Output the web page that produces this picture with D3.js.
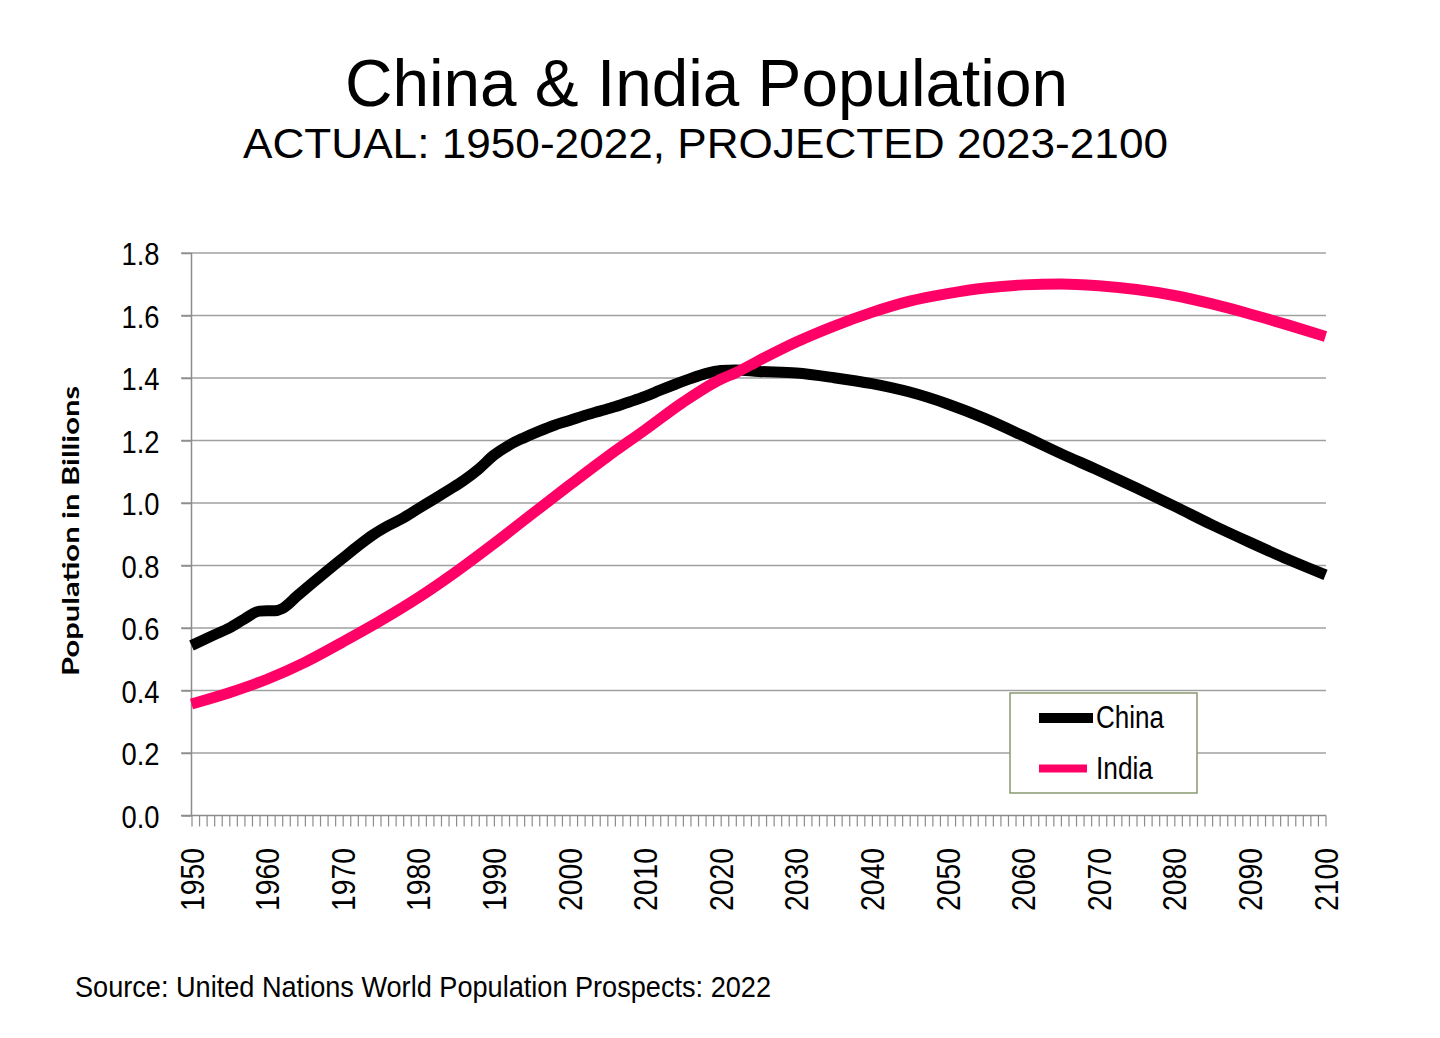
<!DOCTYPE html>
<html>
<head>
<meta charset="utf-8">
<script src="https://cdn.jsdelivr.net/npm/d3@7"></script>
<style>
  body { margin: 0; background: #fff; }
  svg { display: block; font-family: "Liberation Sans", Arial, sans-serif; }
</style>
</head>
<body>
<svg id="chart" width="1440" height="1038"></svg>
<script>
// data, population in billions
var chinaYears = [1950,1953,1955,1957,1959,1960,1961,1962,1964,1966,1968,1970,1972,1974,1976,1978,1980,1982,1984,1986,1988,1990,1992,1994,1996,1998,2000,2002,2004,2006,2008,2010,2012,2014,2016,2018,2020,2022,2025,2030,2035,2040,2045,2050,2055,2060,2065,2070,2075,2080,2085,2090,2095,2100];
var chinaPop = [0.544,0.578,0.600,0.629,0.654,0.655,0.655,0.662,0.703,0.744,0.784,0.823,0.862,0.898,0.927,0.952,0.982,1.011,1.041,1.072,1.109,1.153,1.185,1.209,1.230,1.249,1.264,1.280,1.294,1.308,1.324,1.341,1.361,1.380,1.398,1.414,1.424,1.426,1.421,1.416,1.401,1.382,1.355,1.317,1.270,1.215,1.158,1.104,1.048,0.990,0.930,0.874,0.820,0.770];
var indiaYears = [1950,1955,1960,1965,1970,1975,1980,1985,1990,1995,2000,2005,2010,2015,2020,2022,2025,2030,2035,2040,2045,2050,2055,2060,2065,2070,2075,2080,2085,2090,2095,2100];
var indiaPop = [0.357,0.393,0.436,0.490,0.555,0.623,0.697,0.780,0.870,0.964,1.057,1.148,1.234,1.322,1.396,1.417,1.455,1.515,1.566,1.610,1.646,1.670,1.688,1.698,1.701,1.695,1.683,1.664,1.637,1.605,1.570,1.533];
var yTicks = [0,0.2,0.4,0.6,0.8,1.0,1.2,1.4,1.6,1.8];
var xLabels = d3.range(1950, 2101, 10);
var seriesNames = ["China","India"];
var seriesColors = ["#000000","#ff0066"];

var svg = d3.select("#chart");
var x = d3.scaleLinear().domain([1950,2100]).range([191.5,1325.5]);
var y = d3.scaleLinear().domain([0,1.8]).range([815.5,253]);

// titles
svg.append("text").attr("x",706.5).attr("y",105.5).attr("text-anchor","middle")
  .attr("font-size",66).attr("textLength",723).attr("lengthAdjust","spacingAndGlyphs")
  .text("China & India Population");
svg.append("text").attr("x",705.5).attr("y",158).attr("text-anchor","middle")
  .attr("font-size",43).attr("textLength",925).attr("lengthAdjust","spacingAndGlyphs")
  .text("ACTUAL: 1950-2022, PROJECTED 2023-2100");

// grid
svg.append("g").selectAll("line").data(yTicks.filter(d => d > 0)).enter().append("line")
  .attr("x1",181).attr("x2",1326).attr("y1",d => y(d)).attr("y2",d => y(d))
  .attr("stroke","#a0a0a0").attr("stroke-width",1.5);

// y axis
var gy = svg.append("g").attr("transform","translate(191.5,0)")
  .call(d3.axisLeft(y).tickValues(yTicks).tickSize(10).tickPadding(22).tickFormat(d3.format(".1f")));
gy.selectAll("line").attr("stroke","#8c8c8c").attr("stroke-width",1.5);
gy.select(".domain").remove();
gy.append("line").attr("x1",0).attr("x2",0).attr("y1",253).attr("y2",815.5).attr("stroke","#8c8c8c").attr("stroke-width",1.5);
gy.selectAll("text").attr("font-size",32).attr("font-family","Liberation Sans, Arial, sans-serif")
  .attr("fill","#000").attr("dy","0.36em")
  .attr("textLength",38).attr("lengthAdjust","spacingAndGlyphs");

// x axis: one tick per year
var gx = svg.append("g").attr("transform","translate(0,815.5)")
  .call(d3.axisBottom(x).tickValues(d3.range(1950,2101)).tickSize(11).tickFormat(""));
gx.selectAll("line").attr("stroke","#8c8c8c").attr("stroke-width",1.2);
gx.select(".domain").attr("d","M181,0H1326").attr("stroke","#8c8c8c").attr("stroke-width",1.5);

svg.append("g").selectAll("text").data(xLabels).enter().append("text")
  .attr("transform",d => "translate(" + (x(d) + 12) + ",848) rotate(-90)")
  .attr("text-anchor","end").attr("font-size",33)
  .attr("textLength",63).attr("lengthAdjust","spacingAndGlyphs")
  .text(d => d);

// y label
svg.append("text").attr("transform","translate(79,531) rotate(-90)")
  .attr("text-anchor","middle").attr("font-family","Lato, 'Open Sans', sans-serif")
  .attr("font-weight","bold").attr("font-size",23)
  .attr("textLength",290).attr("lengthAdjust","spacingAndGlyphs")
  .text("Population in Billions");

// lines
var line = d3.line().x(d => x(d[0])).y(d => y(d[1])).curve(d3.curveMonotoneX);
var series = [d3.zip(chinaYears, chinaPop), d3.zip(indiaYears, indiaPop)];
svg.append("g").selectAll("path").data(series).enter().append("path")
  .attr("d",line).attr("fill","none")
  .attr("stroke",(d,i) => seriesColors[i]).attr("stroke-width",11)
  .attr("stroke-linejoin","round");

// legend
var lg = svg.append("g");
lg.append("rect").attr("x",1010).attr("y",693).attr("width",187).attr("height",100)
  .attr("fill","#fff").attr("stroke","#8a9970").attr("stroke-width",1.5);
var items = lg.selectAll("g.item").data(seriesNames).enter().append("g")
  .attr("transform",(d,i) => "translate(0," + (718 + i * 50.5) + ")");
items.append("line").attr("x1",1039).attr("x2",(d,i) => i ? 1087 : 1093)
  .attr("stroke",(d,i) => seriesColors[i]).attr("stroke-width",(d,i) => i ? 8 : 10);
items.append("text").attr("x",1096).attr("y",10).attr("font-size",31)
  .attr("textLength",(d,i) => i ? 57 : 68).attr("lengthAdjust","spacingAndGlyphs")
  .text(d => d);

// source
svg.append("text").attr("x",75).attr("y",997).attr("font-size",30)
  .attr("textLength",696).attr("lengthAdjust","spacingAndGlyphs")
  .text("Source: United Nations World Population Prospects: 2022");
</script>
</body>
</html>
